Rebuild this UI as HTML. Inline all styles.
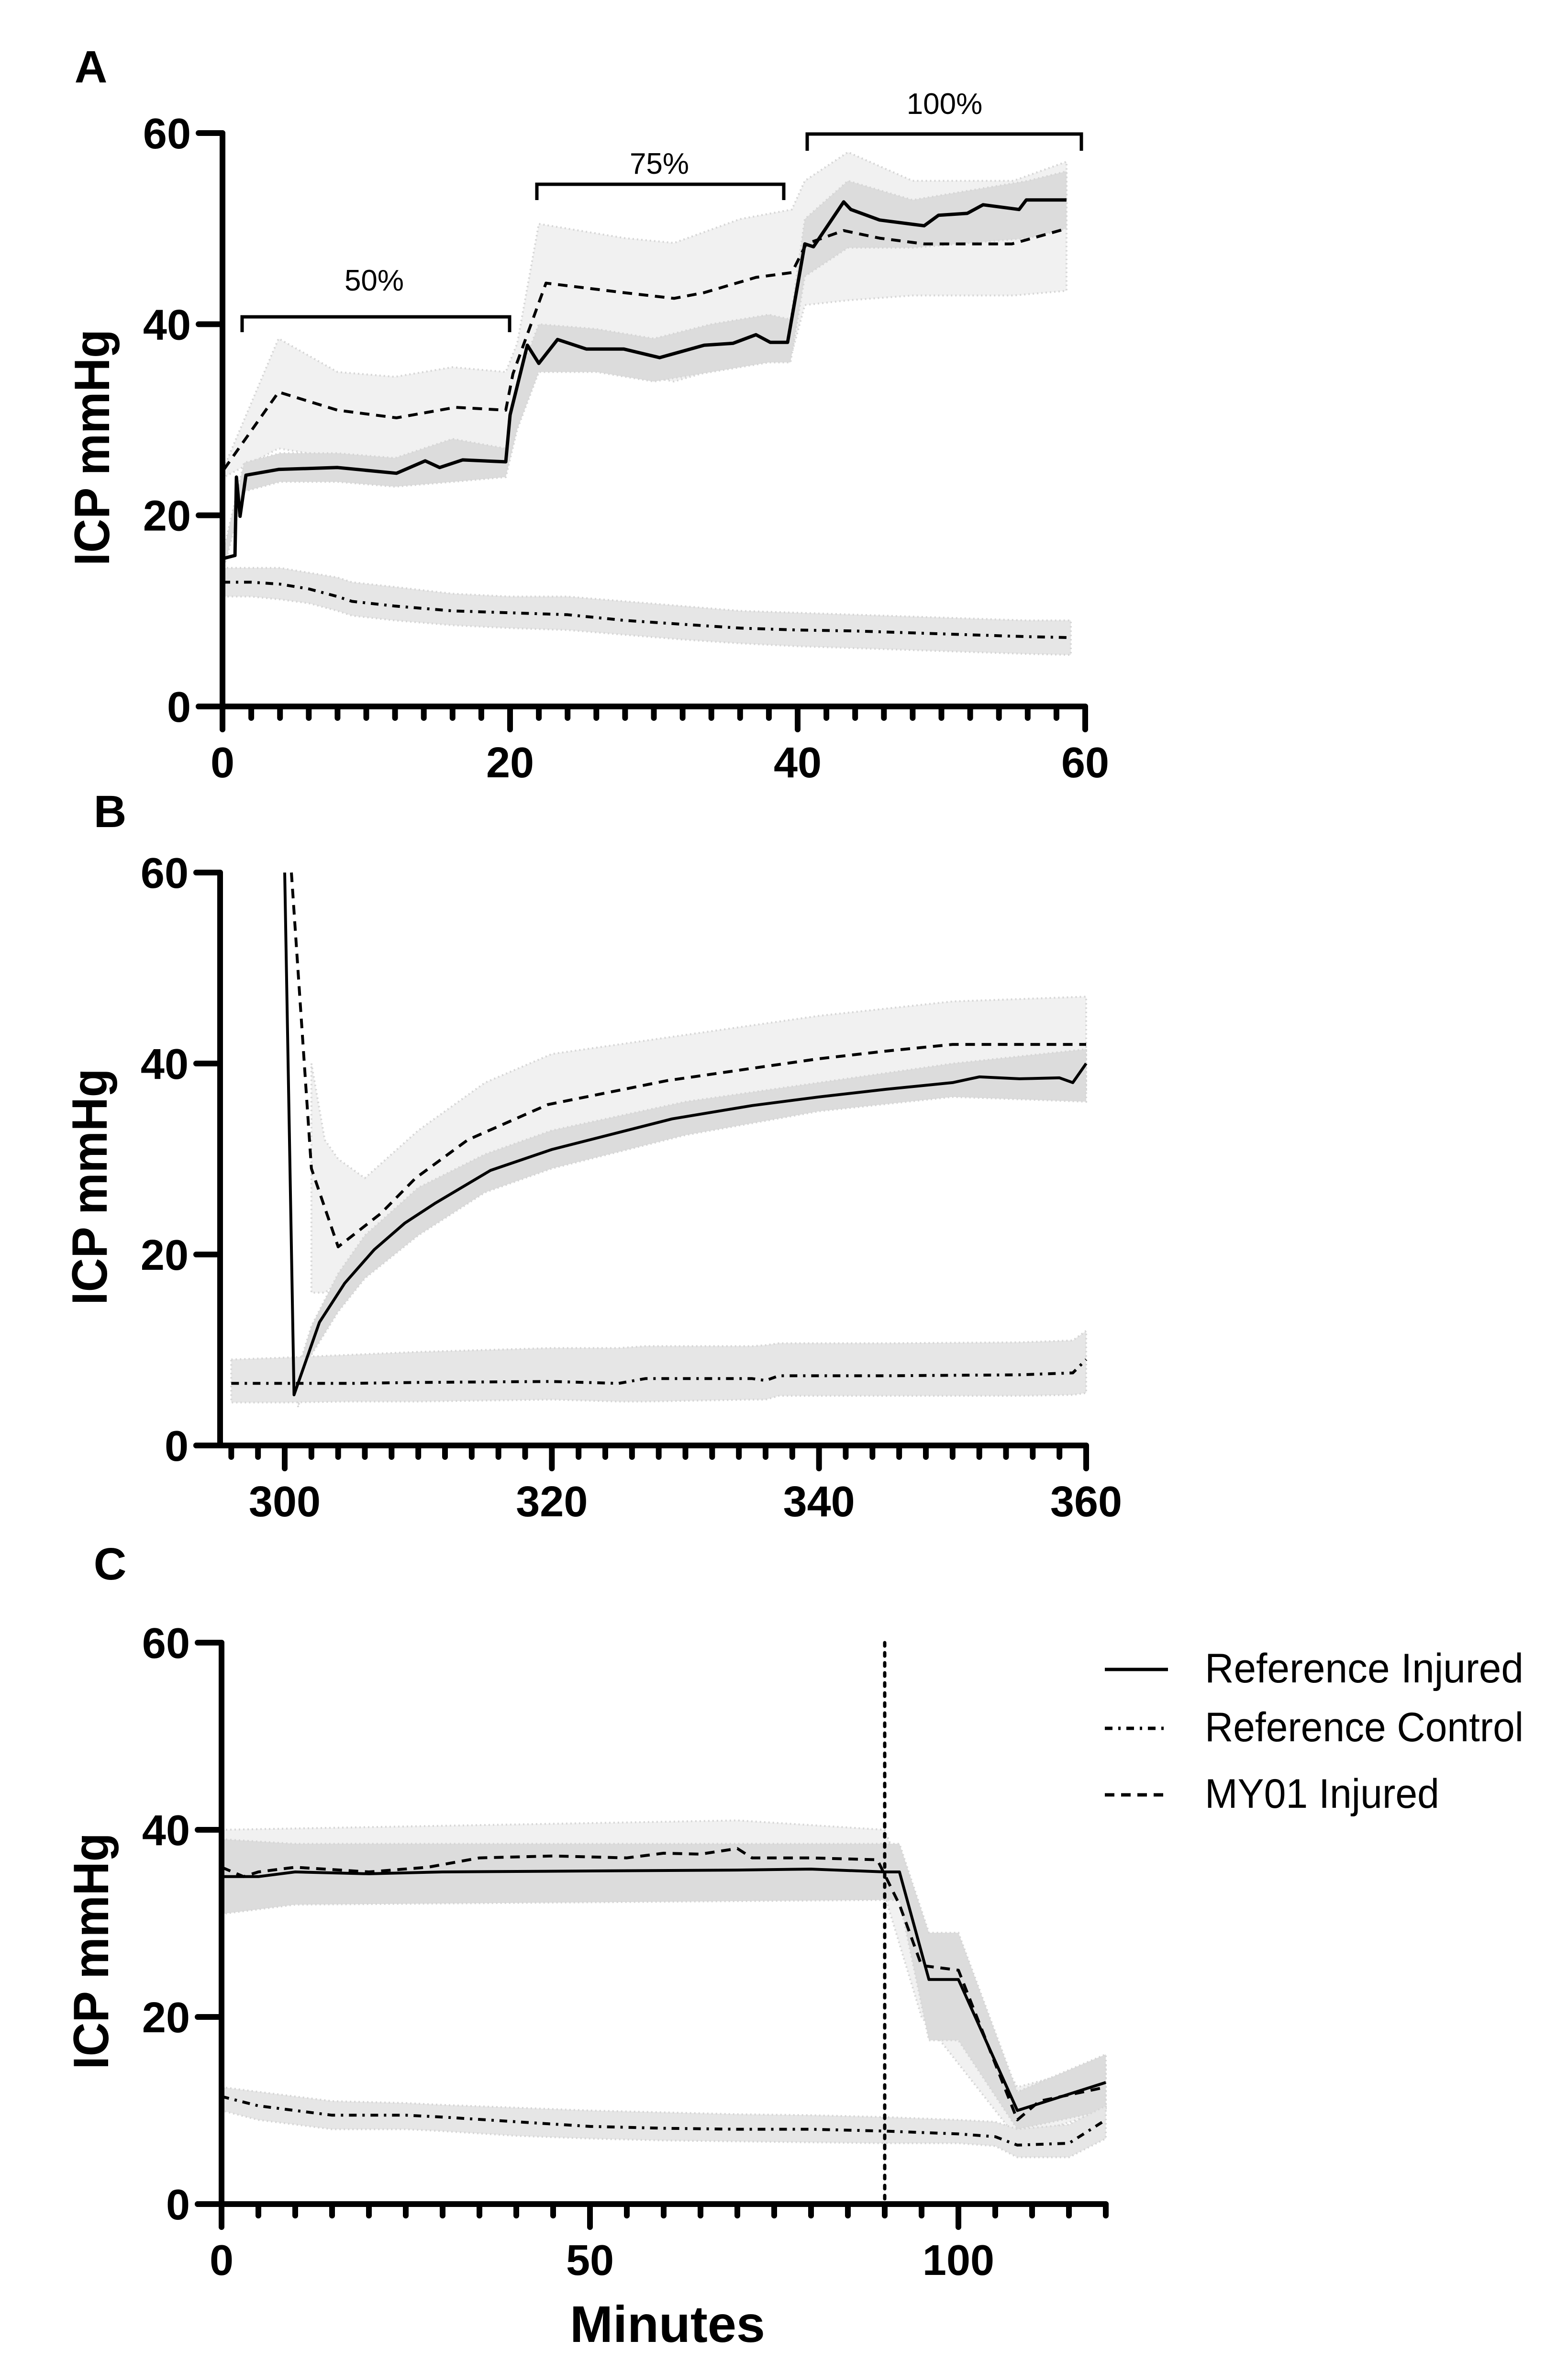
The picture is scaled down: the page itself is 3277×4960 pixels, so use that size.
<!DOCTYPE html>
<html>
<head>
<meta charset="utf-8">
<style>
html,body{margin:0;padding:0;background:#fff;}
svg{display:block;}
text{font-family:"Liberation Sans",sans-serif;fill:#000;}
</style>
</head>
<body>
<svg id="chart" width="3277" height="4960" viewBox="0 0 3277 4960" xmlns="http://www.w3.org/2000/svg"></svg>
<script>
// ===== Panel A data =====
const aSolidT = [0.1,0.87,0.97,1.22,1.63,3.9,8.0,12.1,14.1,15.1,16.7,19.7,20.0,21.2,22.0,23.3,25.3,27.9,30.4,33.5,35.5,37.1,38.1,39.3,40.5,41.1,43.2,43.7,45.7,48.8,49.8,51.8,52.9,55.4,55.9,58.7];
const aSolidV = [15.5,15.8,24,19.9,24.2,24.8,25,24.4,25.7,25,25.8,25.6,30.5,37.8,35.9,38.4,37.4,37.4,36.5,37.8,38,38.9,38.1,38.1,48.4,48.1,52.8,52,50.9,50.3,51.4,51.6,52.5,52,53,53];
const aDashT = [0.1,3.9,8,12.1,16.2,19.7,20.2,22.5,27.9,31.4,33.5,37.1,39.6,40.6,43.2,45.7,48.8,54.9,58.7];
const aDashV = [24.8,32.9,31,30.2,31.3,31,34.8,44.3,43.3,42.7,43.3,44.9,45.4,48.4,49.8,49,48.4,48.4,50];
const aDashBandT = [0.1,3.9,8,12,16,19.7,20.5,22,28,31.4,36,39.6,40.5,43.5,48,55,58.7];
const aDashUpper = [25,38.5,35,34.5,35.5,35,38,50.5,49,48.5,51,52,55,58,55,55,57];
const aDashLower = [24,27,26,25.5,26,26,30,38,35,34,36,37,42,42.5,43,43,43.5];
const aSolidBandT = [0.1,1.5,4,8,12,16,19.7,20.5,22,26,30,34,38,39.5,40.5,43.5,48,52,56,58.7];
const aSolidUpper = [16.5,25.5,26.5,26.5,26,28,27,34,40,39.5,38.5,40,41,40.5,51,55,53,54,55,56];
const aSolidLower = [14.5,22.5,23.5,23.5,23,23.5,24,29,35,35,34,35,36,36,45,48,48,48.5,49,50];
const aCtrlT = [0,2,4,6,8,9,12,16,20,24,28,32,36,40,44,48,52,56,59];
const aCtrlV = [13,13,12.8,12.3,11.5,11,10.5,10,9.8,9.6,9,8.6,8.2,8,7.9,7.7,7.5,7.3,7.2];
const aCtrlUpper = [14.5,14.5,14.5,14,13.5,13,12.5,11.8,11.5,11.5,11,10.5,10,9.8,9.6,9.4,9.2,9,9];
const aCtrlLower = [11.5,11.5,11.2,10.8,10,9.5,9,8.5,8.2,8,7.5,7,6.6,6.3,6.1,5.9,5.7,5.5,5.4];
const aXTicks = [0,20,40,60];
const aYTicks = [0,20,40,60];

// ===== Panel B data =====
const bSolidT = [300.0,300.7,302.6,304.5,306.7,309,311.3,315.4,320,329,335,340,345,350,352,355,358,359,360];
const bSolidV = [60,5.3,12.9,17,20.5,23.3,25.4,28.8,31,34.2,35.6,36.5,37.3,38,38.6,38.4,38.5,38,40];
const bDashT = [300.5,302,304,307.2,309.8,313.7,319.7,328.6,335,340,345,350,355,360];
const bDashV = [60,29,20.8,24.3,28,32,35.7,38.2,39.5,40.5,41.3,42,42,42];
const bDashBandT = [302,303,304,306,310,315,320,330,340,350,360];
const bDashUpper = [40,32,30,28,33,38,41,43,45,46.5,47];
const bDashLower = [16,16,17,20,24,28,31,34,36,37,37];
const bSolidBandT = [301,302,304,306,310,315,320,330,340,350,360];
const bSolidUpper = [8,12.5,18,22,27,30.5,33,36,38,40,41.5];
const bSolidLower = [4,9.5,14,17.5,22,26.5,29,32.5,35,36.5,36];
const bCtrlT = [296,300,305,310,320,325,327,335,336,337,345,355,359,360];
const bCtrlV = [6.5,6.5,6.5,6.6,6.7,6.5,7,7,6.8,7.3,7.3,7.4,7.6,9];
const bCtrlUpper = [9,9.2,9.5,9.8,10.2,10.2,10.4,10.4,10.5,10.7,10.7,10.8,11,12];
const bCtrlLower = [4.5,4.5,4.6,4.6,4.8,4.6,4.6,4.8,4.8,5.2,5.2,5.2,5.3,5.5];
const bXTicks = [300,320,340,360];
const bYTicks = [0,20,40,60];

// ===== Panel C data =====
const cSolidT = [0,5,10,20,30,50,70,80,90,92,96,100,108,120];
const cSolidV = [35,35,35.5,35.3,35.5,35.6,35.7,35.8,35.5,35.5,24,24,10,13];
const cDashT = [0,3,5,10,20,28,35,45,55,60,65,70,72,80,89,92,95,100,108,111,120];
const cDashV = [36,35,35.5,36,35.5,36,37,37.2,37,37.5,37.4,38,37,37,36.8,32,25.5,25,9,11,12.5];
const cSolidBandT = [0,10,90,92,96,100,108,120];
const cSolidUpper = [39,38.5,38.5,38.5,29,29,12,16];
const cSolidLower = [31,32,32.5,32.5,17.5,17.5,8,10];
const cDashBandT = [0,70,90,95,108,120];
const cDashUpper = [40,41,40,30,12.5,15];
const cDashLower = [33,33,33,20,7,10];
const cCtrlT = [0,5,10,15,25,30,40,50,60,70,80,90,100,105,108,115,120];
const cCtrlV = [11.5,10.5,10,9.5,9.5,9.3,8.8,8.3,8.1,8,8,7.8,7.5,7.2,6.3,6.5,9];
const cCtrlUpper = [12.5,12,11.5,11,10.8,10.6,10.3,10,9.8,9.6,9.5,9.3,9,8.8,8,8.5,10.5];
const cCtrlLower = [10,9,8.5,8,8,7.8,7.3,7,6.8,6.7,6.6,6.5,6.5,6.2,5,5,7];
const cXTicks = [0,50,100];
const cYTicks = [0,20,40,60];
const cMarker = [90];

const legendLabels = ["Reference Injured","Reference Control","MY01 Injured"];

const NS = "http://www.w3.org/2000/svg";
const svg = document.getElementById("chart");
function mk(tag, attrs, parent){
  const e = document.createElementNS(NS, tag);
  for (const k in attrs) e.setAttribute(k, attrs[k]);
  (parent||svg).appendChild(e);
  return e;
}
const DASH = "20 14";
const DASHDOT = "16 12 5 12";

function linePath(ts, vs, sx, sy){
  return ts.map((t,i)=>(i?"L":"M")+sx(t).toFixed(1)+","+sy(vs[i]).toFixed(1)).join(" ");
}
function bandPath(ts, up, lo, sx, sy){
  let d = ts.map((t,i)=>(i?"L":"M")+sx(t).toFixed(1)+","+sy(up[i]).toFixed(1)).join(" ");
  for (let i=ts.length-1;i>=0;i--) d += " L"+sx(ts[i]).toFixed(1)+","+sy(lo[i]).toFixed(1);
  return d+" Z";
}

function panel(p){
  const g = mk("g", {});
  
  
  const sx = t => p.x0 + (t - p.xmin)/(p.xmax - p.xmin)*(p.x1 - p.x0);
  const sy = v => p.y0 - (v - 0)/60*(p.y0 - p.y1);
  p.bands.forEach(b=>{
    const e = mk("path", {d: bandPath(b.t,b.u,b.l,sx,sy), fill:b.fill, stroke:"#d6d6d6", "stroke-width":4, "stroke-dasharray":"3 6"}, g);
    
    
  });
  p.lines.forEach(l=>{
    const e = mk("path", {d: linePath(l.t,l.v,sx,sy), fill:"none", stroke:"#000", "stroke-width":l.w||6, "stroke-dasharray":l.dash||"none", "stroke-linejoin":"round"}, g);
    
    
  });
  if (p.marker){
    p.marker.forEach(m=>{
      const e = mk("line", {x1:sx(m), x2:sx(m), y1:p.y1, y2:p.y0, stroke:"#000", "stroke-width":7, "stroke-dasharray":"7 14", "stroke-linecap":"round"}, g);
      
      
    });
  }
  const ax = mk("g", {stroke:"#000", "stroke-width":12, "stroke-linecap":"round"}, g);
  
  
  const yAxisX = p.axisX;
  let e = mk("line",{x1:yAxisX,x2:yAxisX,y1:p.y1,y2:p.y0},ax);
   
  e = mk("line",{x1:yAxisX-50,x2:p.x1,y1:p.y0,y2:p.y0},ax);
   
  p.yTicks.forEach(v=>{
    mk("line",{x1:yAxisX-50,x2:yAxisX,y1:sy(v),y2:sy(v)},ax);
    const t = mk("text",{x:yAxisX-66,y:sy(v)+32,"text-anchor":"end","font-size":90,"font-weight":"bold"},g);
    t.textContent = v;
    
    
  });
  for (let t=p.minorStart; t<=p.xmax+1e-6; t+=p.minorStep){
    const isMajor = p.xTicks.some(m=>Math.abs(m-t)<1e-6);
    mk("line",{x1:sx(t),x2:sx(t),y1:p.y0,y2:p.y0+(isMajor?48:24)},ax);
  }
  p.xTicks.forEach(v=>{
    const t = mk("text",{x:sx(v),y:p.y0+148,"text-anchor":"middle","font-size":90,"font-weight":"bold"},g);
    t.textContent = v;
    
    
  });
  const cy = (p.y0+p.y1)/2 + 58;
  const yt = mk("text",{x:0,y:0,transform:"translate("+(p.axisX-237)+","+cy+") rotate(-90)","text-anchor":"middle","font-size":104,"font-weight":"bold",textLength:494,lengthAdjust:"spacingAndGlyphs"},g);
  yt.textContent = "ICP mmHg";
  
  
  const pl = mk("text",{x:p.letterX,y:p.letterY,"text-anchor":"middle","font-size":95,"font-weight":"bold"},g);
  pl.textContent = p.letter;
  
  
  return {sx, sy, g};
}

const LIGHT = "#f1f1f1", DARK = "#dcdcdc";

panel({name:"panel-a", letter:"A", letterX:190, letterY:172,
  x0:465, x1:2268, xmin:0, xmax:60, y0:1476, y1:278, axisX:465,
  xTicks:aXTicks, yTicks:aYTicks, minorStart:0, minorStep:2,
  bands:[
    {name:"my01-band", t:aDashBandT, u:aDashUpper, l:aDashLower, fill:LIGHT},
    {name:"reference-injured-band", t:aSolidBandT, u:aSolidUpper, l:aSolidLower, fill:DARK},
    {name:"reference-control-band", t:aCtrlT, u:aCtrlUpper, l:aCtrlLower, fill:"#e6e6e6"}
  ],
  lines:[
    {name:"reference-control-line", t:aCtrlT, v:aCtrlV, dash:DASHDOT},
    {name:"my01-injured-line", t:aDashT, v:aDashV, dash:DASH},
    {name:"reference-injured-line", t:aSolidT, v:aSolidV, w:7}
  ]});
const brackets = [
  {name:"bracket-50", x1:506, x2:1065, y:662, d:32, label:"50%", lx:782, ly:607},
  {name:"bracket-75", x1:1122, x2:1638, y:385, d:33, label:"75%", lx:1378, ly:363},
  {name:"bracket-100", x1:1687, x2:2260, y:280, d:35, label:"100%", lx:1974, ly:238}
];
brackets.forEach(b=>{
  const e = mk("path",{d:"M"+b.x1+","+(b.y+b.d)+" L"+b.x1+","+b.y+" L"+b.x2+","+b.y+" L"+b.x2+","+(b.y+b.d),fill:"none",stroke:"#000","stroke-width":7});
  
  
  const t = mk("text",{x:b.lx,y:b.ly,"text-anchor":"middle","font-size":62});
  t.textContent = b.label;
  
  
});

panel({name:"panel-b", letter:"B", letterX:230, letterY:1728,
  x0:595, x1:2270, xmin:300, xmax:360, y0:3020, y1:1823, axisX:460,
  xTicks:bXTicks, yTicks:bYTicks, minorStart:296, minorStep:2,
  bands:[
    {name:"my01-band", t:bDashBandT, u:bDashUpper, l:bDashLower, fill:LIGHT},
    {name:"reference-injured-band", t:bSolidBandT, u:bSolidUpper, l:bSolidLower, fill:DARK},
    {name:"reference-control-band", t:bCtrlT, u:bCtrlUpper, l:bCtrlLower, fill:"#e6e6e6"}
  ],
  lines:[
    {name:"reference-control-line", t:bCtrlT, v:bCtrlV, dash:DASHDOT},
    {name:"my01-injured-line", t:bDashT, v:bDashV, dash:DASH},
    {name:"reference-injured-line", t:bSolidT, v:bSolidV, w:6}
  ]});

panel({name:"panel-c", letter:"C", letterX:230, letterY:3300,
  x0:463, x1:2311, xmin:0, xmax:120, y0:4605, y1:3432, axisX:463,
  xTicks:cXTicks, yTicks:cYTicks, minorStart:0, minorStep:5, marker:cMarker,
  bands:[
    {name:"my01-band", t:cDashBandT, u:cDashUpper, l:cDashLower, fill:LIGHT},
    {name:"reference-injured-band", t:cSolidBandT, u:cSolidUpper, l:cSolidLower, fill:DARK},
    {name:"reference-control-band", t:cCtrlT, u:cCtrlUpper, l:cCtrlLower, fill:"#e6e6e6"}
  ],
  lines:[
    {name:"reference-control-line", t:cCtrlT, v:cCtrlV, dash:DASHDOT},
    {name:"my01-injured-line", t:cDashT, v:cDashV, dash:DASH},
    {name:"reference-injured-line", t:cSolidT, v:cSolidV, w:6}
  ]});

const xt = mk("text",{x:1395,y:4893,"text-anchor":"middle","font-size":108,"font-weight":"bold"});
xt.textContent = "Minutes";



const lg = mk("g",{});


const legendDash = ["none", DASHDOT, DASH];
const legendY = [3515,3638,3777];
const legendW = [666,666,490];
legendLabels.forEach((lab,i)=>{
  const ent = mk("g",{},lg);
  
  
  mk("line",{x1:2309,x2:2441,y1:legendY[i]-27,y2:legendY[i]-27,stroke:"#000","stroke-width":7,"stroke-dasharray":legendDash[i]},ent);
  const t = mk("text",{x:2518,y:legendY[i],"font-size":86,textLength:legendW[i],lengthAdjust:"spacingAndGlyphs"},ent);
  t.textContent = lab;
  
  
});
</script>
</body>
</html>
